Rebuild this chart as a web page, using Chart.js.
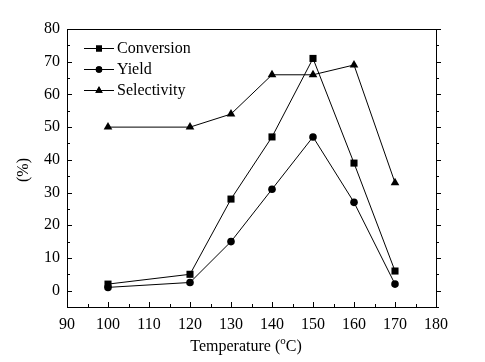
<!DOCTYPE html>
<html>
<head>
<meta charset="utf-8">
<script src="https://cdn.jsdelivr.net/npm/chart.js@4"></script>
<style>
html,body{margin:0;padding:0;background:#fff;}
#wrap{width:485px;height:362px;position:relative;}
</style>
</head>
<body>
<div id="wrap"><canvas id="c" width="485" height="362"></canvas></div>
<script>
const temperatures = [100, 120, 130, 140, 150, 160, 170];
const conversion = [2, 5, 28, 47, 71, 39, 6];
const yieldVals = [1, 2.5, 15, 31, 47, 27, 2];
const selectivity = [50, 50, 54, 66, 66, 69, 33];
const xTicks = [90, 100, 110, 120, 130, 140, 150, 160, 170, 180];
const yTicks = [0, 10, 20, 30, 40, 50, 60, 70, 80];
const seriesNames = ['Conversion', 'Yield', 'Selectivity'];
const xTitleMain = 'Temperature (';
const xTitleSup = 'o';
const xTitleEnd = 'C)';
const yTitle = '(%)';

const FONT = '"Liberation Serif", "Times New Roman", serif';
const styles = ['rect', 'circle', 'triangle'];
const radii = [5, 3.8, 5];

function pts(vals){ return temperatures.map((t,i)=>({x:t,y:vals[i]})); }

const datasets = [conversion, yieldVals, selectivity].map((v,i)=>({
  label: seriesNames[i],
  data: pts(v),
  borderColor: '#000',
  backgroundColor: '#000',
  borderWidth: 1,
  pointStyle: styles[i],
  pointRadius: radii[i],
  pointBorderWidth: 0,
  pointBackgroundColor: '#000',
  tension: 0,
  fill: false
}));

const ticksPlugin = {
  id: 'ticksPlugin',
  afterDraw(chart){
    const ctx = chart.ctx;
    const xs = chart.scales.x, ys = chart.scales.y;
    const a = chart.chartArea;
    ctx.save();
    ctx.strokeStyle = '#000';
    ctx.lineWidth = 1;
    // frame
    ctx.beginPath();
    ctx.rect(Math.round(a.left)+0.5, Math.round(a.top)+0.5, Math.round(a.right-a.left), Math.round(a.bottom-a.top));
    ctx.stroke();
    ctx.beginPath();
    // bottom ticks inward
    for (let v = 90; v <= 180; v += 5){
      const px = Math.round(xs.getPixelForValue(v))+0.5;
      const len = (v % 10 === 0) ? 5 : 3;
      ctx.moveTo(px, a.bottom); ctx.lineTo(px, a.bottom - len);
    }
    // left ticks inward, right ticks outward
    for (let v = -5; v <= 80; v += 5){
      const py = Math.round(ys.getPixelForValue(v))+0.5;
      const len = (v % 10 === 0) ? 5 : 3;
      ctx.moveTo(a.left, py); ctx.lineTo(a.left + len, py);
      ctx.moveTo(a.right, py); ctx.lineTo(a.right + len, py);
    }
    ctx.stroke();

    // legend
    ctx.font = '16px ' + FONT;
    ctx.fillStyle = '#000';
    ctx.textBaseline = 'middle';
    ctx.textAlign = 'left';
    const rows = [48, 69, 90];
    chart.data.datasets.forEach((ds,i)=>{
      const y = rows[i];
      ctx.beginPath();
      ctx.moveTo(84, y+0.5); ctx.lineTo(114, y+0.5);
      ctx.stroke();
      Chart.helpers.drawPoint(ctx, {pointStyle: styles[i], radius: radii[i]*0.85, borderWidth: 0}, 99, y+0.5);
      ctx.fill();
      ctx.fillText(ds.label, 117, y+1);
    });

    // x title with superscript
    ctx.font = '16px ' + FONT;
    const w1 = ctx.measureText(xTitleMain).width;
    ctx.font = '11px ' + FONT;
    const w2 = ctx.measureText(xTitleSup).width;
    ctx.font = '16px ' + FONT;
    const w3 = ctx.measureText(xTitleEnd).width;
    const total = w1 + w2 + w3;
    let x0 = 246 - total/2;
    const ty = 347;
    ctx.textBaseline = 'middle';
    ctx.fillText(xTitleMain, x0, ty);
    ctx.font = '11px ' + FONT;
    ctx.fillText(xTitleSup, x0 + w1, ty - 6);
    ctx.font = '16px ' + FONT;
    ctx.fillText(xTitleEnd, x0 + w1 + w2, ty);

    // y title rotated
    ctx.save();
    ctx.translate(24, 170);
    ctx.rotate(-Math.PI/2);
    ctx.textAlign = 'center';
    ctx.fillText(yTitle, 0, 0);
    ctx.restore();
    ctx.restore();
  }
};

new Chart(document.getElementById('c'), {
  type: 'line',
  data: { datasets },
  options: {
    responsive: false,
    animation: false,
    layout: { padding: { left: 0, right: 49, top: 29, bottom: 0 } },
    plugins: { legend: { display: false }, tooltip: { enabled: false } },
    scales: {
      x: {
        type: 'linear',
        min: 90, max: 180,
        afterBuildTicks(s){ s.ticks = xTicks.map(v=>({value:v})); },
        afterFit(s){ s.height = 55; },
        grid: { display: false, drawTicks: false },
        border: { display: false },
        ticks: { color: '#000', font: { family: FONT, size: 16 }, padding: 8, maxRotation: 0, autoSkip: false }
      },
      y: {
        type: 'linear',
        min: -5, max: 80,
        afterBuildTicks(s){ s.ticks = yTicks.map(v=>({value:v})); },
        afterFit(s){ s.width = 67; },
        grid: { display: false, drawTicks: false },
        border: { display: false },
        ticks: { color: '#000', font: { family: FONT, size: 16 }, padding: 7, autoSkip: false }
      }
    }
  },
  plugins: [ticksPlugin]
});
</script>
</body>
</html>
